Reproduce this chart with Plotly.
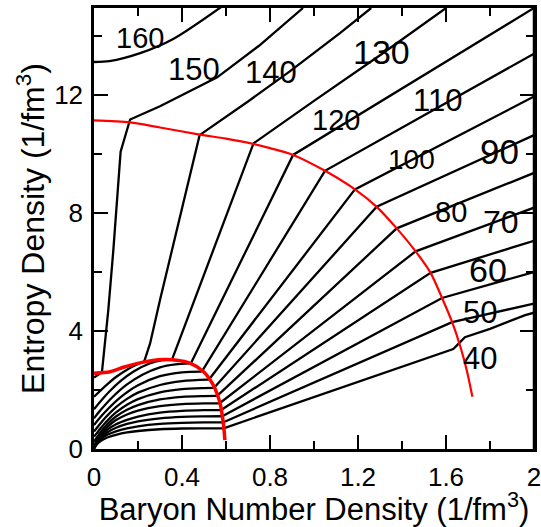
import plotly.graph_objects as go

# ---------------- data ----------------
ISO_NAMES = ["160", "150", "140", "130", "120", "110", "100", "90", "80", "70", "60", "50", "40", "30"]

HADRON_X = {
    "160": [0, 0.07, 0.21, 0.36, 0.6],
    "150": [0, 0.036],
    "140": [0, 0.06, 0.1, 0.15, 0.2, 0.228],
    "130": [0, 0.03, 0.07, 0.12, 0.18, 0.25, 0.31, 0.355],
    "120": [0, 0.03, 0.08, 0.15, 0.22, 0.3, 0.37, 0.44],
    "110": [0, 0.02, 0.06, 0.12, 0.2, 0.3, 0.4, 0.49],
    "100": [0, 0.02, 0.05, 0.1, 0.15, 0.2, 0.3, 0.4, 0.522],
    "90": [0, 0.01, 0.03, 0.06, 0.1, 0.15, 0.2, 0.3, 0.4, 0.5, 0.545],
    "80": [0, 0.01, 0.03, 0.06, 0.1, 0.15, 0.2, 0.3, 0.4, 0.5, 0.56],
    "70": [0, 0.01, 0.03, 0.06, 0.1, 0.15, 0.2, 0.3, 0.4, 0.5, 0.571],
    "60": [0, 0.01, 0.03, 0.06, 0.1, 0.15, 0.2, 0.3, 0.4, 0.5, 0.578],
    "50": [0, 0.01, 0.03, 0.06, 0.1, 0.15, 0.2, 0.3, 0.4, 0.5, 0.583],
    "40": [0, 0.01, 0.03, 0.06, 0.1, 0.15, 0.2, 0.3, 0.4, 0.5, 0.586],
    "30": [0, 0.01, 0.03, 0.06, 0.1, 0.15, 0.2, 0.3, 0.4, 0.5, 0.589],
}
HADRON_Y = {
    "160": [13.12, 13.15, 13.42, 13.9, 15.1],
    "150": [2.42, 2.6],
    "140": [1.77, 2.19, 2.44, 2.69, 2.88, 2.96],
    "130": [1.35, 1.62, 1.95, 2.30, 2.63, 2.89, 3.01, 3.04],
    "120": [1.04, 1.32, 1.73, 2.19, 2.52, 2.77, 2.87, 2.9],
    "110": [0.81, 1.0, 1.33, 1.75, 2.16, 2.47, 2.6, 2.62],
    "100": [0.59, 0.78, 1.05, 1.42, 1.7, 1.91, 2.17, 2.3, 2.35],
    "90": [0.42, 0.51, 0.7, 0.96, 1.24, 1.5, 1.69, 1.92, 2.03, 2.065, 2.07],
    "80": [0.25, 0.36, 0.57, 0.84, 1.1, 1.33, 1.49, 1.68, 1.77, 1.795, 1.8],
    "70": [0.12, 0.25, 0.48, 0.74, 0.98, 1.17, 1.3, 1.45, 1.52, 1.545, 1.55],
    "60": [0.05, 0.21, 0.43, 0.65, 0.84, 0.99, 1.1, 1.23, 1.29, 1.315, 1.32],
    "50": [0.02, 0.18, 0.38, 0.56, 0.72, 0.85, 0.94, 1.04, 1.09, 1.105, 1.11],
    "40": [0.01, 0.16, 0.33, 0.48, 0.6, 0.7, 0.77, 0.85, 0.885, 0.9, 0.9],
    "30": [0.0, 0.13, 0.27, 0.39, 0.48, 0.56, 0.61, 0.67, 0.695, 0.70, 0.70],
}

BRANCH_X = {
    "150": [0.036, 0.065, 0.088, 0.121, 0.164, 0.3, 0.56, 0.75, 0.95],
    "140": [0.228, 0.255, 0.3, 0.48, 0.7, 0.89, 1.118, 1.26],
    "130": [0.355, 0.725, 1.0, 1.3, 1.6],
    "120": [0.44, 0.905, 2.0],
    "110": [0.49, 1.05, 2.0],
    "100": [0.522, 1.186, 2.0],
    "90": [0.545, 1.285, 2.0],
    "80": [0.56, 1.376, 2.0],
    "70": [0.571, 1.462, 2.0],
    "60": [0.578, 1.53, 2.0],
    "50": [0.583, 1.582, 2.0],
    "40": [0.586, 1.628, 2.0],
    "30": [0.589, 1.633, 1.652, 1.686, 1.8, 1.96, 2.0],
}
BRANCH_Y = {
    "150": [2.6, 4.71, 6.75, 10.08, 11.17, 11.62, 12.6, 13.67, 14.95],
    "140": [2.96, 3.58, 5.05, 10.64, 11.78, 12.8, 14.1, 14.95],
    "130": [3.04, 10.36, 11.8, 13.35, 14.95],
    "120": [2.9, 9.97, 14.95],
    "110": [2.62, 9.43, 13.4],
    "100": [2.35, 8.8, 11.95],
    "90": [2.07, 8.21, 10.64],
    "80": [1.8, 7.48, 9.36],
    "70": [1.55, 6.7, 8.18],
    "60": [1.32, 5.97, 7.06],
    "50": [1.11, 5.12, 6.0],
    "40": [0.9, 4.3, 4.93],
    "30": [0.70, 3.39, 3.53, 3.79, 4.07, 4.54, 4.62],
}

INNER_X = [0, 0.073, 0.133, 0.209, 0.315, 0.376, 0.436, 0.497, 0.542, 0.573, 0.588, 0.595]
INNER_Y = [2.57, 2.62, 2.77, 2.92, 3.03, 3.01, 2.91, 2.63, 2.17, 1.55, 0.87, 0.3]
OUTER_X = [0, 0.164, 0.3, 0.48, 0.6, 0.725, 0.8, 0.905, 1.05, 1.186, 1.285, 1.376,
           1.462, 1.53, 1.582, 1.628, 1.664, 1.694, 1.72]
OUTER_Y = [11.14, 11.07, 10.9, 10.66, 10.52, 10.34, 10.2, 9.97, 9.43, 8.8, 8.21, 7.48,
           6.7, 5.97, 5.12, 4.3, 3.5, 2.68, 1.77]

LABEL_TEXT = ["160", "150", "140", "130", "120", "110", "100", "90", "80", "70", "60", "50", "40"]
LABEL_X = [0.209, 0.455, 0.805, 1.305, 1.098, 1.561, 1.441, 1.841, 1.623, 1.848, 1.793, 1.755, 1.755]
LABEL_Y = [13.92, 12.86, 12.76, 13.46, 11.14, 11.83, 9.81, 10.08, 8.03, 7.71, 6.08, 4.63, 3.07]
LABEL_SIZE = [29, 31, 31, 34, 29, 31, 28, 35, 29, 32, 34, 31, 31]

X_RANGE = [0, 2]
Y_RANGE = [0, 14.95]
X_TICKS = [0, 0.4, 0.8, 1.2, 1.6, 2.0]
X_TICK_TEXT = ["0", "0.4", "0.8", "1.2", "1.6", "2"]
X_MINOR = [0.2, 0.6, 1.0, 1.4, 1.8]
Y_TICKS = [0, 4, 8, 12]
Y_TICK_TEXT = ["0", "4", "8", "12"]
Y_MINOR = [2, 6, 10, 14]

FONT = "Liberation Sans, Arial, Helvetica, sans-serif"
MAJOR_LEN = 14
MINOR_LEN = 8
PLOT_W = 440  # plotting-box width in pixels (541 - 94 - 7)

fig = go.Figure()

for name in ISO_NAMES:
    fig.add_trace(go.Scatter(
        x=HADRON_X[name], y=HADRON_Y[name], mode="lines",
        line=dict(color="black", width=2.3, shape="spline", smoothing=0.8),
        hoverinfo="skip"))
    if name in BRANCH_X:
        fig.add_trace(go.Scatter(
            x=BRANCH_X[name], y=BRANCH_Y[name], mode="lines",
            line=dict(color="black", width=2.3),
            hoverinfo="skip"))

fig.add_trace(go.Scatter(x=INNER_X, y=INNER_Y, mode="lines",
                         line=dict(color="#ff0000", width=3.5, shape="spline", smoothing=0.8),
                         hoverinfo="skip"))
fig.add_trace(go.Scatter(x=OUTER_X, y=OUTER_Y, mode="lines",
                         line=dict(color="#ff0000", width=2.2, shape="spline", smoothing=0.8),
                         hoverinfo="skip"))

for t, x, y, s in zip(LABEL_TEXT, LABEL_X, LABEL_Y, LABEL_SIZE):
    fig.add_annotation(x=x, y=y, text=t, showarrow=False, xanchor="center", yanchor="middle",
                       font=dict(family=FONT, size=s, color="black"))

axis_common = dict(
    ticks="inside", ticklen=MAJOR_LEN, tickwidth=2, tickcolor="black",
    showline=True, linewidth=2.5, linecolor="black", mirror="allticks",
    showgrid=False, zeroline=False, ticklabeloverflow="allow",
    tickfont=dict(family=FONT, size=26, color="black"),
)

fig.update_xaxes(
    range=X_RANGE, tickmode="array", tickvals=X_TICKS, ticktext=X_TICK_TEXT,
    minor=dict(tickmode="array", tickvals=X_MINOR, ticks="inside", ticklen=MINOR_LEN,
               tickwidth=2, tickcolor="black"),
    ticklabelstandoff=3,
    title=dict(text="Baryon Number Density (1/fm<sup>3</sup>)",
               font=dict(family=FONT, size=31, color="black"), standoff=2),
    **axis_common)
fig.update_yaxes(
    range=Y_RANGE, tickmode="array", tickvals=Y_TICKS, ticktext=Y_TICK_TEXT,
    minor=dict(tickmode="array", tickvals=Y_MINOR, ticks="inside", ticklen=MINOR_LEN,
               tickwidth=2, tickcolor="black"),
    ticklabelstandoff=3,
    title=dict(text="Entropy Density (1/fm<sup>3</sup>)",
               font=dict(family=FONT, size=32, color="black"), standoff=0),
    **axis_common)

# right-hand frame edge of the plotting box, with its inward ticks
units_per_px = (X_RANGE[1] - X_RANGE[0]) / PLOT_W
fig.add_shape(type="line", xref="paper", yref="paper", x0=1, x1=1, y0=0, y1=1,
              line=dict(color="black", width=2.5))
for v in Y_TICKS[1:]:
    fig.add_shape(type="line", xref="x", yref="y",
                  x0=X_RANGE[1] - MAJOR_LEN * units_per_px, x1=X_RANGE[1], y0=v, y1=v,
                  line=dict(color="black", width=2))
for v in Y_MINOR:
    fig.add_shape(type="line", xref="x", yref="y",
                  x0=X_RANGE[1] - MINOR_LEN * units_per_px, x1=X_RANGE[1], y0=v, y1=v,
                  line=dict(color="black", width=2))

fig.update_layout(
    width=541, height=527,
    margin=dict(l=94, r=7, t=8, b=78, autoexpand=False),
    plot_bgcolor="white", paper_bgcolor="white",
    showlegend=False,
)

fig.write_html(
    "out.html",
    config={"displayModeBar": False},
    post_script="document.body.style.margin='0';document.body.style.overflow='hidden';",
)
